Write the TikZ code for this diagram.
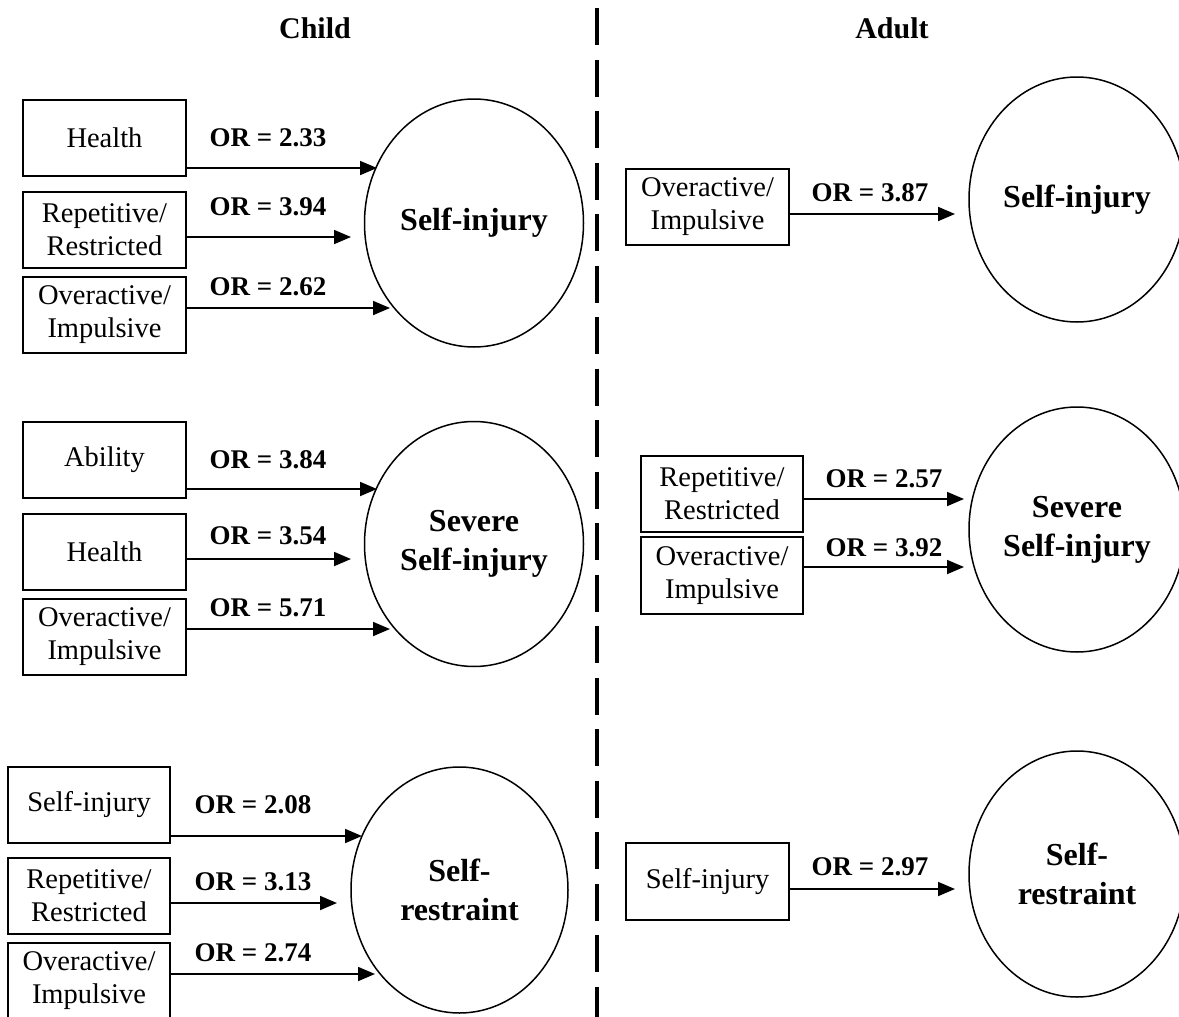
\documentclass[tikz,border=0pt]{standalone}
\usepackage{fontspec}
\setmainfont{Liberation Serif}
\usetikzlibrary{shapes.geometric,arrows.meta}
\begin{document}
\begin{tikzpicture}[x=1pt,y=-1pt,
  boxnode/.style={draw,line width=1.5pt,minimum width=163pt,minimum height=76pt,inner sep=0pt,align=center,font=\fontsize{28.5}{33}\selectfont},
  ellnode/.style={draw,ellipse,line width=1.5pt,inner sep=0pt,align=center,font=\fontsize{32}{39}\selectfont\bfseries},
  orlabel/.style={inner sep=0pt,font=\fontsize{27}{32}\selectfont\bfseries},
  header/.style={inner sep=0pt,font=\fontsize{30}{35}\selectfont\bfseries},
  arr/.style={line width=1.8pt,-{Triangle[length=17pt,width=14pt]}},
  divider/.style={line width=4pt,dash pattern=on 37pt off 14.5pt}]
\useasboundingbox (0,0) rectangle (1179,1017);
\fill[white] (0,0) rectangle (1179,1017);

% headers
\node[header] (hchild) at (315,28) {Child};
\node[header] (hadult) at (892,28) {Adult};

% divider
\coordinate (dtop) at (597,8);
\coordinate (dbot) at (597,1017);
\draw[divider] (dtop) -- (dbot);

% ---------- Child, group 1 ----------
\node[boxnode] (b11) at (104.5,138) {Health};
\node[boxnode] (b12) at (104.5,230) {Repetitive/\\Restricted};
\node[boxnode] (b13) at (104.5,315) {Overactive/\\Impulsive};
\node[ellnode,minimum width=219pt,minimum height=248pt] (e1) at (474,223) {Self-injury};
\coordinate (t11) at (377,168);
\coordinate (t12) at (351,237);
\coordinate (t13) at (390,308);
\draw[arr] (b11.east |- t11) -- (t11);
\draw[arr] (b12.east |- t12) -- (t12);
\draw[arr] (b13.east |- t13) -- (t13);
\node[orlabel] (l11) at (268,138) {OR = 2.33};
\node[orlabel] (l12) at (268,207) {OR = 3.94};
\node[orlabel] (l13) at (268,287) {OR = 2.62};

% ---------- Child, group 2 ----------
\node[boxnode] (b21) at (104.5,460) {Ability};
\node[boxnode] (b22) at (104.5,552) {Health};
\node[boxnode] (b23) at (104.5,637) {Overactive/\\Impulsive};
\node[ellnode,minimum width=219pt,minimum height=245pt] (e2) at (474,544) {Severe\\Self-injury};
\coordinate (t21) at (377,489);
\coordinate (t22) at (351,559);
\coordinate (t23) at (390,629);
\draw[arr] (b21.east |- t21) -- (t21);
\draw[arr] (b22.east |- t22) -- (t22);
\draw[arr] (b23.east |- t23) -- (t23);
\node[orlabel] (l21) at (268,460) {OR = 3.84};
\node[orlabel] (l22) at (268,536) {OR = 3.54};
\node[orlabel] (l23) at (268,608) {OR = 5.71};

% ---------- Child, group 3 ----------
\node[boxnode,minimum width=162pt] (b31) at (89,805) {Self-injury};
\node[boxnode,minimum width=162pt] (b32) at (89,896) {Repetitive/\\Restricted};
\node[boxnode,minimum width=162pt] (b33) at (89,981) {Overactive/\\Impulsive};
\node[ellnode,minimum width=217pt,minimum height=246pt] (e3) at (459.5,890) {Self-\\restraint};
\coordinate (t31) at (362,836);
\coordinate (t32) at (337,903);
\coordinate (t33) at (375,974);
\draw[arr] (b31.east |- t31) -- (t31);
\draw[arr] (b32.east |- t32) -- (t32);
\draw[arr] (b33.east |- t33) -- (t33);
\node[orlabel] (l31) at (253,805) {OR = 2.08};
\node[orlabel] (l32) at (253,882) {OR = 3.13};
\node[orlabel] (l33) at (253,953) {OR = 2.74};

% ---------- Adult, group 1 ----------
\node[boxnode] (r11) at (707.5,207) {Overactive/\\Impulsive};
\node[ellnode,minimum width=216pt,minimum height=245pt] (f1) at (1077,199.5) {Self-injury};
\coordinate (s11) at (955,214);
\draw[arr] (r11.east |- s11) -- (s11);
\node[orlabel] (k11) at (870,193) {OR = 3.87};

% ---------- Adult, group 2 ----------
\node[boxnode,minimum width=162pt] (r21) at (722,494) {Repetitive/\\Restricted};
\node[boxnode,minimum width=162pt,minimum height=77pt] (r22) at (722,575.5) {Overactive/\\Impulsive};
\node[ellnode,minimum width=216pt,minimum height=245pt] (f2) at (1077,529.5) {Severe\\Self-injury};
\coordinate (s21) at (964,499);
\coordinate (s22) at (964,567);
\draw[arr] (r21.east |- s21) -- (s21);
\draw[arr] (r22.east |- s22) -- (s22);
\node[orlabel] (k21) at (884,479) {OR = 2.57};
\node[orlabel] (k22) at (884,548) {OR = 3.92};

% ---------- Adult, group 3 ----------
\node[boxnode,minimum height=77pt] (r31) at (707.5,881.5) {Self-injury};
\node[ellnode,minimum width=216pt,minimum height=246pt] (f3) at (1077,874) {Self-\\restraint};
\coordinate (s31) at (955,889);
\draw[arr] (r31.east |- s31) -- (s31);
\node[orlabel] (k31) at (870,867) {OR = 2.97};
\end{tikzpicture}
\end{document}
